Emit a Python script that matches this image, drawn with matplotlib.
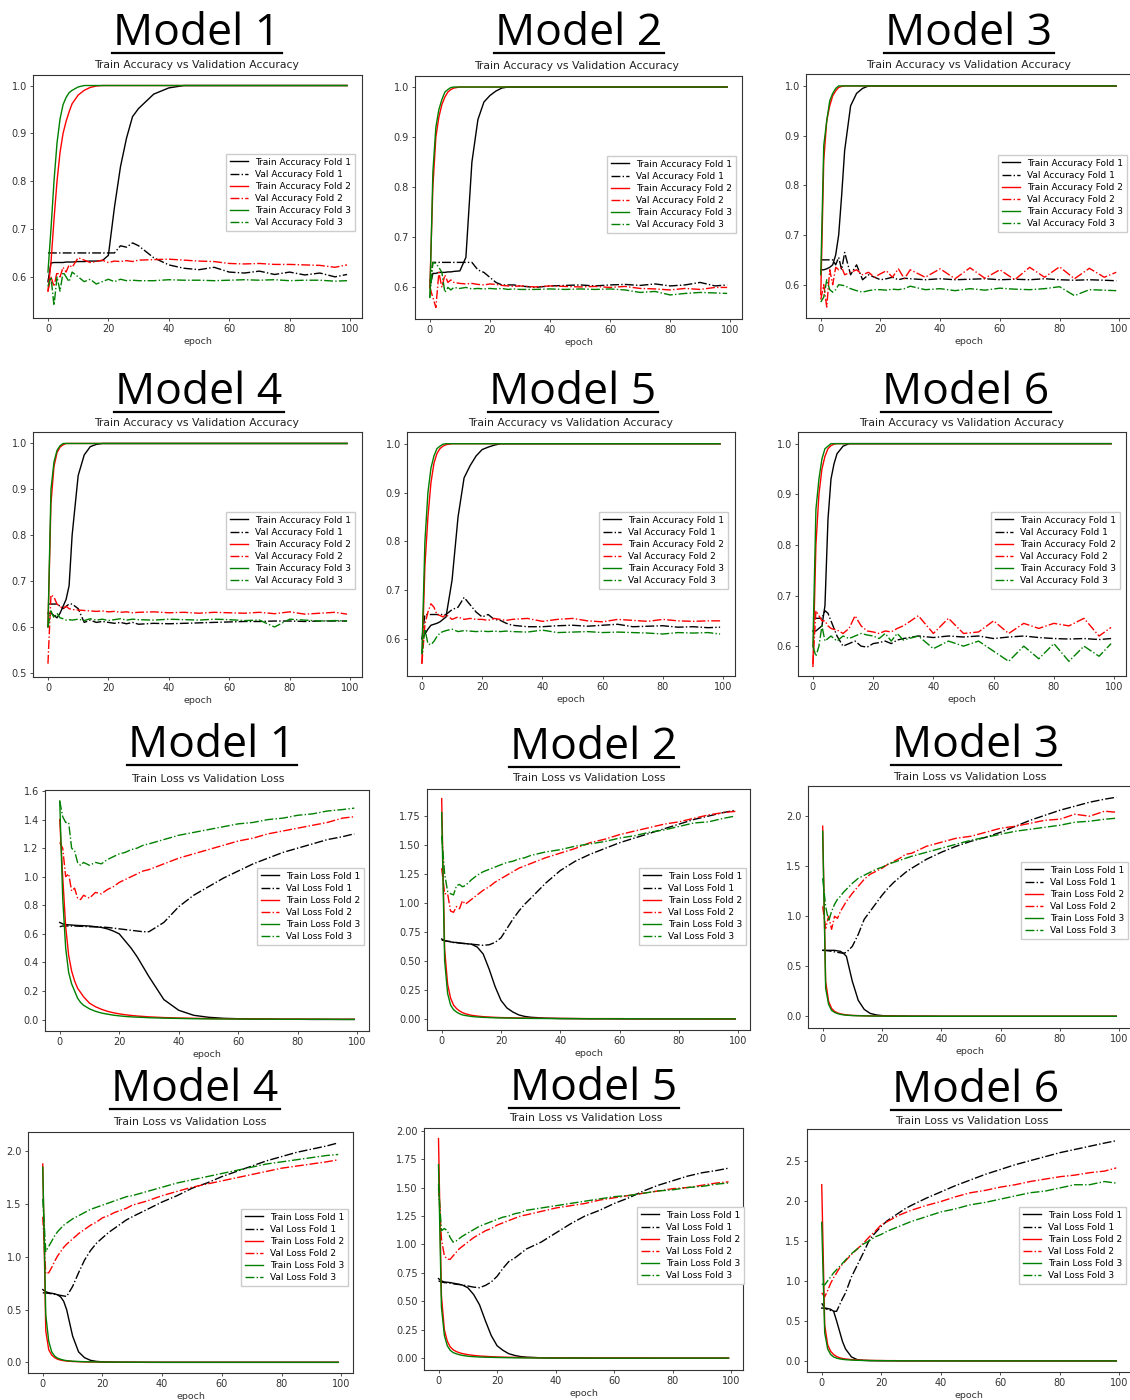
import matplotlib.pyplot as plt
from matplotlib.lines import Line2D
from matplotlib.ticker import MultipleLocator

W, H = 1130, 1400

epochs = [0, 1, 2, 3, 4, 5, 6, 7, 8,
          10, 12, 14, 16, 18, 20, 22, 24, 26, 28, 30,
          35, 40, 45, 50, 55, 60, 65, 70, 75, 80, 85, 90, 95, 99]

# ---------------- accuracy, Model 1 ----------------
m1_acc_tr1 = [0.59, 0.629, 0.63, 0.63, 0.63, 0.63, 0.631, 0.631, 0.631,
              0.632, 0.632, 0.633, 0.633, 0.634, 0.645, 0.745, 0.83, 0.89, 0.935, 0.952,
              0.982, 0.995, 1.0, 1.0, 1.0, 1.0, 1.0, 1.0, 1.0, 1.0, 1.0, 1.0, 1.0, 1.0]
m1_acc_va1 = [0.65, 0.65, 0.65, 0.65, 0.65, 0.65, 0.65, 0.65, 0.65,
              0.65, 0.65, 0.65, 0.65, 0.65, 0.65, 0.65, 0.665, 0.662, 0.671, 0.665,
              0.64, 0.625, 0.618, 0.615, 0.62, 0.61, 0.608, 0.612, 0.605, 0.61, 0.604, 0.608, 0.6, 0.605]
m1_acc_tr2 = [0.57, 0.63, 0.72, 0.8, 0.86, 0.9, 0.925, 0.945, 0.962,
              0.98, 0.99, 0.996, 0.999, 1.0, 1.0, 1.0, 1.0, 1.0, 1.0, 1.0,
              1.0, 1.0, 1.0, 1.0, 1.0, 1.0, 1.0, 1.0, 1.0, 1.0, 1.0, 1.0, 1.0, 1.0]
m1_acc_va2 = [0.57, 0.6, 0.58, 0.61, 0.6, 0.62, 0.61, 0.625, 0.62,
              0.64, 0.635, 0.63, 0.632, 0.635, 0.63, 0.633, 0.632, 0.634, 0.632, 0.635,
              0.636, 0.637, 0.635, 0.633, 0.632, 0.628, 0.627, 0.628, 0.626, 0.626, 0.625, 0.624, 0.62, 0.625]
m1_acc_tr3 = [0.61, 0.7, 0.8, 0.88, 0.93, 0.96, 0.975, 0.985, 0.99,
              0.997, 1.0, 1.0, 1.0, 1.0, 1.0, 1.0, 1.0, 1.0, 1.0, 1.0,
              1.0, 1.0, 1.0, 1.0, 1.0, 1.0, 1.0, 1.0, 1.0, 1.0, 1.0, 1.0, 1.0, 1.0]
m1_acc_va3 = [0.58, 0.6, 0.54, 0.6, 0.57, 0.61, 0.6, 0.59, 0.61,
              0.6, 0.59, 0.595, 0.585, 0.59, 0.595, 0.59, 0.595, 0.592, 0.593, 0.592,
              0.592, 0.594, 0.593, 0.593, 0.592, 0.593, 0.594, 0.593, 0.594, 0.592, 0.593, 0.593, 0.591, 0.592]

# ---------------- accuracy, Model 2 ----------------
m2_acc_tr1 = [0.6, 0.628, 0.628, 0.63, 0.63, 0.63, 0.631, 0.631, 0.632,
              0.633, 0.66, 0.85, 0.935, 0.97, 0.983, 0.992, 0.998, 1.0, 1.0, 1.0,
              1.0, 1.0, 1.0, 1.0, 1.0, 1.0, 1.0, 1.0, 1.0, 1.0, 1.0, 1.0, 1.0, 1.0]
m2_acc_va1 = [0.61, 0.65, 0.65, 0.65, 0.65, 0.65, 0.65, 0.65, 0.65,
              0.65, 0.65, 0.65, 0.635, 0.63, 0.62, 0.61, 0.605, 0.605, 0.605, 0.603,
              0.6, 0.603, 0.604, 0.605, 0.603, 0.605, 0.606, 0.604, 0.607, 0.603, 0.605, 0.61, 0.603, 0.605]
m2_acc_tr2 = [0.6, 0.8, 0.9, 0.94, 0.965, 0.98, 0.99, 0.995, 0.998,
              1.0, 1.0, 1.0, 1.0, 1.0, 1.0, 1.0, 1.0, 1.0, 1.0, 1.0,
              1.0, 1.0, 1.0, 1.0, 1.0, 1.0, 1.0, 1.0, 1.0, 1.0, 1.0, 1.0, 1.0, 1.0]
m2_acc_va2 = [0.6, 0.58, 0.56, 0.63, 0.6, 0.625, 0.61, 0.615, 0.61,
              0.608, 0.607, 0.608, 0.606, 0.605, 0.607, 0.606, 0.604, 0.603, 0.602, 0.603,
              0.601, 0.603, 0.602, 0.601, 0.602, 0.6, 0.602, 0.598, 0.597, 0.595, 0.598, 0.596, 0.6, 0.6]
m2_acc_tr3 = [0.58, 0.83, 0.92, 0.955, 0.975, 0.99, 0.995, 0.999, 1.0,
              1.0, 1.0, 1.0, 1.0, 1.0, 1.0, 1.0, 1.0, 1.0, 1.0, 1.0,
              1.0, 1.0, 1.0, 1.0, 1.0, 1.0, 1.0, 1.0, 1.0, 1.0, 1.0, 1.0, 1.0, 1.0]
m2_acc_va3 = [0.58, 0.65, 0.648, 0.64, 0.63, 0.59, 0.6, 0.595, 0.6,
              0.598, 0.6, 0.597, 0.598, 0.597, 0.598, 0.597, 0.598, 0.596, 0.597, 0.596,
              0.596, 0.597, 0.596, 0.597, 0.596, 0.597, 0.595, 0.59, 0.592, 0.585, 0.588, 0.59, 0.589, 0.588]

# ---------------- accuracy, Model 3 ----------------
m3_acc_tr1 = [0.63, 0.63, 0.632, 0.635, 0.64, 0.66, 0.7, 0.78, 0.87,
              0.96, 0.985, 0.995, 1.0, 1.0, 1.0, 1.0, 1.0, 1.0, 1.0, 1.0,
              1.0, 1.0, 1.0, 1.0, 1.0, 1.0, 1.0, 1.0, 1.0, 1.0, 1.0, 1.0, 1.0, 1.0]
m3_acc_va1 = [0.65, 0.65, 0.65, 0.65, 0.65, 0.64, 0.655, 0.63, 0.665,
              0.62, 0.64, 0.61, 0.62, 0.615, 0.61, 0.612, 0.615, 0.61, 0.613, 0.612,
              0.61, 0.612, 0.61, 0.611, 0.612, 0.61, 0.611, 0.61, 0.612, 0.61, 0.609, 0.61, 0.609, 0.608]
m3_acc_tr2 = [0.58, 0.85, 0.93, 0.96, 0.98, 0.99, 0.997, 0.999, 1.0,
              1.0, 1.0, 1.0, 1.0, 1.0, 1.0, 1.0, 1.0, 1.0, 1.0, 1.0,
              1.0, 1.0, 1.0, 1.0, 1.0, 1.0, 1.0, 1.0, 1.0, 1.0, 1.0, 1.0, 1.0, 1.0]
m3_acc_va2 = [0.57, 0.6, 0.555, 0.63, 0.6, 0.635, 0.63, 0.635, 0.62,
              0.625, 0.63, 0.62, 0.625, 0.615, 0.622, 0.628, 0.615, 0.632, 0.612, 0.63,
              0.615, 0.632, 0.612, 0.634, 0.613, 0.63, 0.61, 0.635, 0.615, 0.636, 0.612, 0.633, 0.615, 0.625]
m3_acc_tr3 = [0.62, 0.88, 0.93, 0.97, 0.985, 0.995, 1.0, 1.0, 1.0,
              1.0, 1.0, 1.0, 1.0, 1.0, 1.0, 1.0, 1.0, 1.0, 1.0, 1.0,
              1.0, 1.0, 1.0, 1.0, 1.0, 1.0, 1.0, 1.0, 1.0, 1.0, 1.0, 1.0, 1.0, 1.0]
m3_acc_va3 = [0.565, 0.575, 0.61, 0.59, 0.585, 0.59, 0.6, 0.599, 0.598,
              0.592, 0.588, 0.585, 0.588, 0.59, 0.59, 0.589, 0.591, 0.59, 0.592, 0.597,
              0.59, 0.592, 0.588, 0.592, 0.589, 0.593, 0.591, 0.59, 0.592, 0.596, 0.578, 0.59, 0.589, 0.588]

# ---------------- accuracy, Model 4 ----------------
m4_acc_tr1 = [0.63, 0.63, 0.625, 0.62, 0.63, 0.645, 0.66, 0.69, 0.8,
              0.93, 0.975, 0.993, 0.998, 1.0, 1.0, 1.0, 1.0, 1.0, 1.0, 1.0,
              1.0, 1.0, 1.0, 1.0, 1.0, 1.0, 1.0, 1.0, 1.0, 1.0, 1.0, 1.0, 1.0, 1.0]
m4_acc_va1 = [0.65, 0.65, 0.65, 0.65, 0.645, 0.64, 0.645, 0.65, 0.65,
              0.64, 0.61, 0.615, 0.61, 0.612, 0.61, 0.608, 0.61, 0.607, 0.61, 0.606,
              0.608, 0.607, 0.608, 0.609, 0.61, 0.611, 0.612, 0.612, 0.613, 0.613, 0.612, 0.613, 0.613, 0.613]
m4_acc_tr2 = [0.6, 0.87, 0.95, 0.98, 0.992, 0.997, 1.0, 1.0, 1.0,
              1.0, 1.0, 1.0, 1.0, 1.0, 1.0, 1.0, 1.0, 1.0, 1.0, 1.0,
              1.0, 1.0, 1.0, 1.0, 1.0, 1.0, 1.0, 1.0, 1.0, 1.0, 1.0, 1.0, 1.0, 1.0]
m4_acc_va2 = [0.52, 0.67, 0.665, 0.65, 0.645, 0.64, 0.645, 0.64, 0.638,
              0.637, 0.636, 0.635, 0.634, 0.635, 0.633, 0.634, 0.632, 0.633, 0.631, 0.632,
              0.633, 0.631, 0.632, 0.63, 0.632, 0.631, 0.63, 0.632, 0.629, 0.633, 0.628, 0.63, 0.632, 0.628]
m4_acc_tr3 = [0.6, 0.9, 0.96, 0.985, 0.995, 1.0, 1.0, 1.0, 1.0,
              1.0, 1.0, 1.0, 1.0, 1.0, 1.0, 1.0, 1.0, 1.0, 1.0, 1.0,
              1.0, 1.0, 1.0, 1.0, 1.0, 1.0, 1.0, 1.0, 1.0, 1.0, 1.0, 1.0, 1.0, 1.0]
m4_acc_va3 = [0.6, 0.635, 0.62, 0.63, 0.62, 0.618, 0.615, 0.616, 0.615,
              0.617, 0.614, 0.618, 0.615, 0.617, 0.614, 0.616, 0.618, 0.615, 0.617, 0.616,
              0.615, 0.617, 0.616, 0.615, 0.617, 0.616, 0.614, 0.615, 0.6, 0.617, 0.615, 0.613, 0.614, 0.613]

# ---------------- accuracy, Model 5 ----------------
m5_acc_tr1 = [0.6, 0.61, 0.62, 0.628, 0.63, 0.632, 0.635, 0.64, 0.645,
              0.72, 0.85, 0.93, 0.955, 0.975, 0.988, 0.993, 0.997, 1.0, 1.0, 1.0,
              1.0, 1.0, 1.0, 1.0, 1.0, 1.0, 1.0, 1.0, 1.0, 1.0, 1.0, 1.0, 1.0, 1.0]
m5_acc_va1 = [0.6, 0.65, 0.65, 0.65, 0.65, 0.65, 0.65, 0.65, 0.65,
              0.66, 0.665, 0.685, 0.67, 0.655, 0.645, 0.65, 0.64, 0.638, 0.632, 0.628,
              0.625, 0.625, 0.627, 0.628, 0.626, 0.628, 0.63, 0.625, 0.626, 0.627, 0.624, 0.625, 0.623, 0.624]
m5_acc_tr2 = [0.55, 0.75, 0.85, 0.92, 0.96, 0.98, 0.99, 0.995, 0.998,
              1.0, 1.0, 1.0, 1.0, 1.0, 1.0, 1.0, 1.0, 1.0, 1.0, 1.0,
              1.0, 1.0, 1.0, 1.0, 1.0, 1.0, 1.0, 1.0, 1.0, 1.0, 1.0, 1.0, 1.0, 1.0]
m5_acc_va2 = [0.55, 0.63, 0.655, 0.672, 0.665, 0.65, 0.648, 0.645, 0.65,
              0.64, 0.645, 0.64, 0.642, 0.64, 0.64, 0.638, 0.642, 0.64, 0.638, 0.64,
              0.642, 0.636, 0.64, 0.642, 0.637, 0.635, 0.64, 0.638, 0.636, 0.64, 0.637, 0.636, 0.637, 0.637]
m5_acc_tr3 = [0.57, 0.8, 0.9, 0.95, 0.975, 0.99, 0.995, 0.999, 1.0,
              1.0, 1.0, 1.0, 1.0, 1.0, 1.0, 1.0, 1.0, 1.0, 1.0, 1.0,
              1.0, 1.0, 1.0, 1.0, 1.0, 1.0, 1.0, 1.0, 1.0, 1.0, 1.0, 1.0, 1.0, 1.0]
m5_acc_va3 = [0.57, 0.62, 0.59, 0.588, 0.595, 0.605, 0.612, 0.615, 0.617,
              0.62, 0.615, 0.617, 0.616, 0.615, 0.616, 0.615, 0.616, 0.615, 0.616, 0.615,
              0.614, 0.618, 0.613, 0.614, 0.615, 0.613, 0.614, 0.613, 0.612, 0.61, 0.613, 0.612, 0.613, 0.61]

# ---------------- accuracy, Model 6 ----------------
m6_acc_tr1 = [0.63, 0.63, 0.635, 0.64, 0.68, 0.85, 0.93, 0.96, 0.98,
              0.995, 1.0, 1.0, 1.0, 1.0, 1.0, 1.0, 1.0, 1.0, 1.0, 1.0,
              1.0, 1.0, 1.0, 1.0, 1.0, 1.0, 1.0, 1.0, 1.0, 1.0, 1.0, 1.0, 1.0, 1.0]
m6_acc_va1 = [0.655, 0.655, 0.655, 0.655, 0.67, 0.665, 0.65, 0.635, 0.62,
              0.6, 0.605, 0.61, 0.6, 0.598, 0.605, 0.607, 0.61, 0.605, 0.612, 0.615,
              0.62, 0.617, 0.62, 0.618, 0.62, 0.615, 0.618, 0.62, 0.617, 0.615, 0.614, 0.615, 0.613, 0.615]
m6_acc_tr2 = [0.56, 0.8, 0.9, 0.95, 0.975, 0.99, 0.996, 0.999, 1.0,
              1.0, 1.0, 1.0, 1.0, 1.0, 1.0, 1.0, 1.0, 1.0, 1.0, 1.0,
              1.0, 1.0, 1.0, 1.0, 1.0, 1.0, 1.0, 1.0, 1.0, 1.0, 1.0, 1.0, 1.0, 1.0]
m6_acc_va2 = [0.565, 0.67, 0.66, 0.65, 0.65, 0.64, 0.635, 0.633, 0.632,
              0.625, 0.635, 0.66, 0.64, 0.63, 0.628, 0.625, 0.63, 0.628, 0.635, 0.64,
              0.66, 0.625, 0.655, 0.625, 0.628, 0.65, 0.625, 0.645, 0.635, 0.645, 0.64, 0.655, 0.62, 0.637]
m6_acc_tr3 = [0.6, 0.87, 0.93, 0.97, 0.99, 0.995, 1.0, 1.0, 1.0,
              1.0, 1.0, 1.0, 1.0, 1.0, 1.0, 1.0, 1.0, 1.0, 1.0, 1.0,
              1.0, 1.0, 1.0, 1.0, 1.0, 1.0, 1.0, 1.0, 1.0, 1.0, 1.0, 1.0, 1.0, 1.0]
m6_acc_va3 = [0.6, 0.58, 0.6, 0.64, 0.61, 0.615, 0.62, 0.615, 0.61,
              0.62, 0.615, 0.62, 0.625, 0.622, 0.62, 0.615, 0.625, 0.61, 0.625, 0.612,
              0.62, 0.595, 0.61, 0.6, 0.61, 0.59, 0.57, 0.6, 0.575, 0.605, 0.57, 0.6, 0.58, 0.605]

# ---------------- loss, Model 1 ----------------
m1_loss_tr1 = [0.68, 0.67, 0.665, 0.663, 0.662, 0.66, 0.659, 0.658, 0.657,
               0.655, 0.65, 0.645, 0.635, 0.62, 0.6, 0.55, 0.5, 0.44, 0.37, 0.3,
               0.14, 0.065, 0.03, 0.016, 0.009, 0.006, 0.004, 0.003, 0.002, 0.002, 0.001, 0.001, 0.001, 0.001]
m1_loss_va1 = [0.65, 0.655, 0.655, 0.655, 0.655, 0.655, 0.654, 0.653, 0.652,
               0.65, 0.649, 0.648, 0.645, 0.64, 0.635, 0.63, 0.625, 0.62, 0.615, 0.615,
               0.68, 0.79, 0.87, 0.93, 0.99, 1.04, 1.09, 1.13, 1.17, 1.2, 1.23, 1.26, 1.28, 1.3]
m1_loss_tr2 = [1.4, 1.0, 0.65, 0.45, 0.34, 0.27, 0.22, 0.19, 0.16,
               0.115, 0.09, 0.072, 0.058, 0.048, 0.04, 0.034, 0.029, 0.025, 0.022, 0.019,
               0.014, 0.011, 0.009, 0.007, 0.006, 0.005, 0.004, 0.004, 0.003, 0.003, 0.003, 0.002, 0.002, 0.002]
m1_loss_va2 = [1.24, 1.2, 1.0, 1.02, 0.9, 0.92, 0.85, 0.84, 0.87,
               0.85, 0.89, 0.88, 0.91, 0.93, 0.96, 0.98, 1.0, 1.02, 1.04, 1.05,
               1.09, 1.13, 1.16, 1.19, 1.22, 1.25, 1.27, 1.3, 1.32, 1.34, 1.36, 1.38, 1.41, 1.42]
m1_loss_tr3 = [1.53, 0.85, 0.5, 0.33, 0.25, 0.2, 0.15, 0.12, 0.1,
               0.075, 0.058, 0.046, 0.038, 0.031, 0.026, 0.022, 0.019, 0.017, 0.015, 0.013,
               0.01, 0.008, 0.006, 0.005, 0.004, 0.004, 0.003, 0.003, 0.002, 0.002, 0.002, 0.002, 0.001, 0.001]
m1_loss_va3 = [1.53, 1.42, 1.38, 1.38, 1.2, 1.18, 1.1, 1.08, 1.1,
               1.08, 1.1, 1.09, 1.12, 1.14, 1.16, 1.17, 1.19, 1.2, 1.22, 1.23,
               1.26, 1.29, 1.31, 1.33, 1.35, 1.37, 1.38, 1.4, 1.41, 1.43, 1.44, 1.46, 1.47, 1.48]

# ---------------- loss, Model 2 ----------------
m2_loss_tr1 = [0.69, 0.675, 0.67, 0.665, 0.66, 0.66, 0.655, 0.652, 0.65,
               0.645, 0.62, 0.56, 0.43, 0.28, 0.16, 0.095, 0.06, 0.035, 0.022, 0.015,
               0.007, 0.004, 0.003, 0.002, 0.002, 0.001, 0.001, 0.001, 0.001, 0.001, 0.001, 0.001, 0.001, 0.001]
m2_loss_va1 = [0.68, 0.675, 0.67, 0.668, 0.66, 0.658, 0.655, 0.652, 0.65,
               0.645, 0.64, 0.635, 0.64, 0.66, 0.7, 0.78, 0.86, 0.93, 0.99, 1.04,
               1.17, 1.28, 1.36, 1.42, 1.47, 1.52, 1.56, 1.6, 1.64, 1.68, 1.72, 1.75, 1.78, 1.8]
m2_loss_tr2 = [1.9, 0.6, 0.3, 0.18, 0.12, 0.09, 0.07, 0.055, 0.045,
               0.032, 0.025, 0.02, 0.017, 0.014, 0.012, 0.011, 0.01, 0.009, 0.008, 0.007,
               0.006, 0.005, 0.004, 0.003, 0.003, 0.003, 0.002, 0.002, 0.002, 0.002, 0.002, 0.001, 0.001, 0.001]
m2_loss_va2 = [1.3, 1.08, 1.08, 0.93, 0.92, 0.97, 0.95, 1.02, 0.99,
               1.03, 1.07, 1.11, 1.14, 1.18, 1.21, 1.24, 1.27, 1.3, 1.32, 1.34,
               1.39, 1.43, 1.47, 1.52, 1.55, 1.59, 1.62, 1.65, 1.68, 1.7, 1.73, 1.76, 1.78, 1.79]
m2_loss_tr3 = [1.78, 0.5, 0.22, 0.12, 0.08, 0.06, 0.045, 0.035, 0.03,
               0.022, 0.017, 0.014, 0.012, 0.01, 0.009, 0.008, 0.007, 0.006, 0.006, 0.005,
               0.004, 0.003, 0.003, 0.002, 0.002, 0.002, 0.002, 0.001, 0.001, 0.001, 0.001, 0.001, 0.001, 0.001]
m2_loss_va3 = [1.58, 1.25, 1.1, 1.08, 1.07, 1.15, 1.16, 1.14, 1.15,
               1.2, 1.24, 1.27, 1.29, 1.31, 1.33, 1.35, 1.36, 1.38, 1.39, 1.41,
               1.44, 1.46, 1.49, 1.51, 1.53, 1.56, 1.58, 1.61, 1.63, 1.66, 1.69, 1.7, 1.73, 1.75]

# ---------------- loss, Model 3 ----------------
m3_loss_tr1 = [0.66, 0.66, 0.66, 0.66, 0.66, 0.655, 0.65, 0.63, 0.6,
               0.35, 0.16, 0.07, 0.03, 0.015, 0.008, 0.005, 0.004, 0.003, 0.003, 0.002,
               0.002, 0.001, 0.001, 0.001, 0.001, 0.001, 0.001, 0.001, 0.001, 0.001, 0.001, 0.001, 0.001, 0.001]
m3_loss_va1 = [0.66, 0.658, 0.655, 0.65, 0.645, 0.64, 0.635, 0.63, 0.64,
               0.7, 0.82, 0.97, 1.05, 1.13, 1.21, 1.28, 1.34, 1.39, 1.44, 1.48,
               1.57, 1.64, 1.7, 1.75, 1.79, 1.84, 1.9, 1.96, 2.01, 2.06, 2.1, 2.14, 2.17, 2.19]
m3_loss_tr2 = [1.9, 0.35, 0.15, 0.08, 0.05, 0.035, 0.025, 0.02, 0.015,
               0.01, 0.008, 0.006, 0.005, 0.004, 0.004, 0.003, 0.003, 0.002, 0.002, 0.002,
               0.002, 0.001, 0.001, 0.001, 0.001, 0.001, 0.001, 0.001, 0.001, 0.001, 0.001, 0.001, 0.001, 0.001]
m3_loss_va2 = [1.1, 0.88, 1.0, 0.87, 1.0, 0.98, 1.05, 1.1, 1.15,
               1.23, 1.3, 1.37, 1.42, 1.45, 1.48, 1.52, 1.55, 1.58, 1.62, 1.63,
               1.7, 1.74, 1.78, 1.8, 1.84, 1.88, 1.9, 1.93, 1.96, 1.97, 2.02, 2.0, 2.05, 2.04]
m3_loss_tr3 = [1.85, 0.28, 0.12, 0.06, 0.04, 0.028, 0.02, 0.015, 0.012,
               0.008, 0.006, 0.005, 0.004, 0.003, 0.003, 0.002, 0.002, 0.002, 0.002, 0.001,
               0.001, 0.001, 0.001, 0.001, 0.001, 0.001, 0.001, 0.001, 0.001, 0.001, 0.001, 0.001, 0.001, 0.001]
m3_loss_va3 = [1.38, 1.1, 0.95, 1.05, 1.12, 1.17, 1.2, 1.24, 1.27,
               1.33, 1.38, 1.41, 1.44, 1.47, 1.49, 1.52, 1.54, 1.56, 1.58, 1.6,
               1.64, 1.68, 1.72, 1.76, 1.79, 1.82, 1.85, 1.87, 1.89, 1.91, 1.94, 1.95, 1.97, 1.98]

# ---------------- loss, Model 4 ----------------
m4_loss_tr1 = [0.69, 0.67, 0.66, 0.655, 0.65, 0.64, 0.62, 0.58, 0.5,
               0.25, 0.1, 0.045, 0.02, 0.01, 0.006, 0.004, 0.003, 0.002, 0.002, 0.002,
               0.001, 0.001, 0.001, 0.001, 0.001, 0.001, 0.001, 0.001, 0.001, 0.001, 0.001, 0.001, 0.001, 0.001]
m4_loss_va1 = [0.66, 0.658, 0.655, 0.65, 0.645, 0.64, 0.635, 0.63, 0.625,
               0.72, 0.85, 0.97, 1.06, 1.13, 1.18, 1.23, 1.27, 1.31, 1.35, 1.38,
               1.45, 1.52, 1.58, 1.65, 1.7, 1.76, 1.81, 1.86, 1.91, 1.95, 1.99, 2.02, 2.05, 2.08]
m4_loss_tr2 = [1.88, 0.3, 0.12, 0.07, 0.045, 0.03, 0.022, 0.017, 0.013,
               0.009, 0.007, 0.005, 0.004, 0.004, 0.003, 0.003, 0.002, 0.002, 0.002, 0.002,
               0.001, 0.001, 0.001, 0.001, 0.001, 0.001, 0.001, 0.001, 0.001, 0.001, 0.001, 0.001, 0.001, 0.001]
m4_loss_va2 = [1.38, 0.84, 0.85, 0.9, 0.96, 1.01, 1.05, 1.09, 1.12,
               1.17, 1.22, 1.26, 1.3, 1.33, 1.37, 1.39, 1.42, 1.44, 1.46, 1.49,
               1.53, 1.58, 1.62, 1.66, 1.69, 1.72, 1.75, 1.78, 1.81, 1.84, 1.86, 1.88, 1.9, 1.92]
m4_loss_tr3 = [1.85, 0.45, 0.2, 0.1, 0.06, 0.04, 0.03, 0.022, 0.017,
               0.012, 0.009, 0.007, 0.006, 0.005, 0.004, 0.003, 0.003, 0.003, 0.002, 0.002,
               0.002, 0.001, 0.001, 0.001, 0.001, 0.001, 0.001, 0.001, 0.001, 0.001, 0.001, 0.001, 0.001, 0.001]
m4_loss_va3 = [1.55, 1.05, 1.1, 1.15, 1.2, 1.24, 1.27, 1.3, 1.32,
               1.36, 1.39, 1.42, 1.45, 1.47, 1.49, 1.51, 1.53, 1.55, 1.57, 1.58,
               1.62, 1.66, 1.7, 1.73, 1.76, 1.79, 1.82, 1.85, 1.88, 1.9, 1.92, 1.94, 1.96, 1.97]

# ---------------- loss, Model 5 ----------------
m5_loss_tr1 = [0.7, 0.68, 0.67, 0.668, 0.665, 0.66, 0.655, 0.65, 0.645,
               0.62, 0.56, 0.47, 0.33, 0.2, 0.11, 0.07, 0.04, 0.025, 0.015, 0.01,
               0.004, 0.002, 0.002, 0.001, 0.001, 0.001, 0.001, 0.001, 0.001, 0.001, 0.001, 0.001, 0.001, 0.001]
m5_loss_va1 = [0.68, 0.67, 0.665, 0.662, 0.66, 0.655, 0.65, 0.648, 0.645,
               0.635, 0.625, 0.62, 0.64, 0.67, 0.72, 0.79, 0.85, 0.88, 0.92, 0.96,
               1.02, 1.1, 1.18, 1.25, 1.3, 1.36, 1.41, 1.47, 1.52, 1.56, 1.6, 1.63, 1.65, 1.67]
m5_loss_tr2 = [1.93, 0.55, 0.25, 0.15, 0.1, 0.075, 0.06, 0.05, 0.042,
               0.032, 0.025, 0.02, 0.017, 0.014, 0.012, 0.01, 0.009, 0.008, 0.007, 0.006,
               0.005, 0.004, 0.003, 0.003, 0.002, 0.002, 0.002, 0.002, 0.001, 0.001, 0.001, 0.001, 0.001, 0.001]
m5_loss_va2 = [1.5, 1.05, 0.9, 0.87, 0.87, 0.9, 0.93, 0.96, 0.98,
               1.02, 1.06, 1.09, 1.12, 1.14, 1.17, 1.19, 1.21, 1.23, 1.25, 1.26,
               1.29, 1.32, 1.34, 1.36, 1.39, 1.41, 1.43, 1.45, 1.47, 1.49, 1.5, 1.52, 1.54, 1.55]
m5_loss_tr3 = [1.7, 0.45, 0.2, 0.11, 0.07, 0.05, 0.04, 0.032, 0.026,
               0.018, 0.014, 0.011, 0.009, 0.008, 0.007, 0.006, 0.005, 0.004, 0.004, 0.003,
               0.003, 0.002, 0.002, 0.002, 0.001, 0.001, 0.001, 0.001, 0.001, 0.001, 0.001, 0.001, 0.001, 0.001]
m5_loss_va3 = [1.53, 1.12, 1.14, 1.12, 1.06, 1.02, 1.03, 1.05, 1.07,
               1.1, 1.13, 1.16, 1.18, 1.2, 1.22, 1.24, 1.25, 1.27, 1.28, 1.3,
               1.32, 1.34, 1.36, 1.38, 1.4, 1.42, 1.43, 1.45, 1.47, 1.48, 1.5, 1.51, 1.53, 1.54]

# ---------------- loss, Model 6 ----------------
m6_loss_tr1 = [0.66, 0.66, 0.655, 0.645, 0.62, 0.5, 0.37, 0.24, 0.15,
               0.05, 0.015, 0.007, 0.004, 0.003, 0.002, 0.002, 0.002, 0.001, 0.001, 0.001,
               0.001, 0.001, 0.001, 0.001, 0.001, 0.001, 0.001, 0.001, 0.001, 0.001, 0.001, 0.001, 0.001, 0.001]
m6_loss_va1 = [0.72, 0.66, 0.64, 0.63, 0.62, 0.62, 0.7, 0.78, 0.85,
               1.05, 1.2, 1.35, 1.51, 1.6, 1.68, 1.75, 1.8, 1.85, 1.9, 1.94,
               2.03, 2.11, 2.19, 2.26, 2.33, 2.39, 2.45, 2.5, 2.55, 2.6, 2.64, 2.68, 2.72, 2.75]
m6_loss_tr2 = [2.2, 0.45, 0.2, 0.12, 0.08, 0.055, 0.04, 0.03, 0.025,
               0.017, 0.012, 0.009, 0.007, 0.006, 0.005, 0.004, 0.004, 0.003, 0.003, 0.003,
               0.002, 0.002, 0.002, 0.001, 0.001, 0.001, 0.001, 0.001, 0.001, 0.001, 0.001, 0.001, 0.001, 0.001]
m6_loss_va2 = [0.85, 0.8, 0.88, 0.97, 1.04, 1.1, 1.16, 1.21, 1.25,
               1.33, 1.4, 1.47, 1.55, 1.62, 1.7, 1.74, 1.78, 1.82, 1.85, 1.88,
               1.94, 1.99, 2.05, 2.1, 2.13, 2.17, 2.2, 2.24, 2.27, 2.3, 2.32, 2.35, 2.37, 2.41]
m6_loss_tr3 = [1.73, 0.35, 0.15, 0.08, 0.05, 0.035, 0.026, 0.02, 0.016,
               0.011, 0.008, 0.006, 0.005, 0.004, 0.004, 0.003, 0.003, 0.002, 0.002, 0.002,
               0.002, 0.001, 0.001, 0.001, 0.001, 0.001, 0.001, 0.001, 0.001, 0.001, 0.001, 0.001, 0.001, 0.001]
m6_loss_va3 = [0.96, 0.95, 1.0, 1.05, 1.1, 1.14, 1.18, 1.22, 1.26,
               1.34, 1.4, 1.46, 1.5, 1.55, 1.58, 1.62, 1.65, 1.68, 1.71, 1.74,
               1.8, 1.86, 1.9, 1.95, 1.98, 2.02, 2.06, 2.1, 2.12, 2.16, 2.2, 2.2, 2.24, 2.22]

acc_series = [
    [m1_acc_tr1, m1_acc_va1, m1_acc_tr2, m1_acc_va2, m1_acc_tr3, m1_acc_va3],
    [m2_acc_tr1, m2_acc_va1, m2_acc_tr2, m2_acc_va2, m2_acc_tr3, m2_acc_va3],
    [m3_acc_tr1, m3_acc_va1, m3_acc_tr2, m3_acc_va2, m3_acc_tr3, m3_acc_va3],
    [m4_acc_tr1, m4_acc_va1, m4_acc_tr2, m4_acc_va2, m4_acc_tr3, m4_acc_va3],
    [m5_acc_tr1, m5_acc_va1, m5_acc_tr2, m5_acc_va2, m5_acc_tr3, m5_acc_va3],
    [m6_acc_tr1, m6_acc_va1, m6_acc_tr2, m6_acc_va2, m6_acc_tr3, m6_acc_va3],
]
loss_series = [
    [m1_loss_tr1, m1_loss_va1, m1_loss_tr2, m1_loss_va2, m1_loss_tr3, m1_loss_va3],
    [m2_loss_tr1, m2_loss_va1, m2_loss_tr2, m2_loss_va2, m2_loss_tr3, m2_loss_va3],
    [m3_loss_tr1, m3_loss_va1, m3_loss_tr2, m3_loss_va2, m3_loss_tr3, m3_loss_va3],
    [m4_loss_tr1, m4_loss_va1, m4_loss_tr2, m4_loss_va2, m4_loss_tr3, m4_loss_va3],
    [m5_loss_tr1, m5_loss_va1, m5_loss_tr2, m5_loss_va2, m5_loss_tr3, m5_loss_va3],
    [m6_loss_tr1, m6_loss_va1, m6_loss_tr2, m6_loss_va2, m6_loss_tr3, m6_loss_va3],
]

acc_labels = ['Train Accuracy Fold 1', 'Val Accuracy Fold 1', 'Train Accuracy Fold 2',
              'Val Accuracy Fold 2', 'Train Accuracy Fold 3', 'Val Accuracy Fold 3']
loss_labels = ['Train Loss Fold 1', 'Val Loss Fold 1', 'Train Loss Fold 2',
               'Val Loss Fold 2', 'Train Loss Fold 3', 'Val Loss Fold 3']
model_names = ['Model 1', 'Model 2', 'Model 3', 'Model 4', 'Model 5', 'Model 6']

colors = ['black', 'black', 'red', 'red', 'green', 'green']
styles = ['-', '-.', '-', '-.', '-', '-.']

# panel layout in pixels (left, top, right, bottom) of each axes
axes_px = [(33, 75, 362, 318), (415, 76, 742, 319), (806, 74, 1131, 318),
           (33, 432, 362, 677), (407, 432, 735, 676), (798, 432, 1126, 676),
           (45, 790, 369, 1031), (427, 789, 750, 1030), (808, 786, 1131, 1028),
           (28, 1132, 353, 1373), (424, 1128, 743, 1370), (807, 1129, 1131, 1372)]
ylims = [(0.514, 1.022), (0.537, 1.022), (0.533, 1.024),
         (0.491, 1.025), (0.524, 1.024), (0.541, 1.023),
         (-0.08, 1.607), (-0.095, 1.983), (-0.116, 2.302),
         (-0.10, 2.183), (-0.103, 2.023), (-0.138, 2.896)]
ysteps = [0.1, 0.1, 0.1, 0.1, 0.1, 0.1, 0.2, 0.25, 0.5, 0.5, 0.25, 0.5]
# big title centre x and underline y; subtitle centre
title_px = [(197, 53), (579, 53), (969, 53), (199, 412), (573, 412), (966, 412),
            (212, 765), (594, 767), (976, 765), (195, 1109), (594, 1108), (976, 1110)]
sub_px = [(196, 65), (577, 66), (969, 65), (197, 423), (570, 423), (962, 423),
          (208, 779), (589, 778), (970, 777), (190, 1122), (586, 1118), (972, 1121)]
legend_px = [(226, 154), (607, 156), (998, 155), (226, 512), (599, 512), (991, 512),
             (257, 868), (639, 868), (1021, 862), (241, 1209), (637, 1207), (1019, 1207)]

fig = plt.figure(figsize=(W / 100, H / 100), dpi=100)

for i in range(12):
    if i < 6:
        series, labels, sub = acc_series[i], acc_labels, 'Train Accuracy vs Validation Accuracy'
    else:
        series, labels, sub = loss_series[i - 6], loss_labels, 'Train Loss vs Validation Loss'
    name = model_names[i % 6]

    l, t, r, b = axes_px[i]
    ax = fig.add_axes([l / W, 1 - b / H, (r - l) / W, (b - t) / H])
    for vals, c, ls, lab in zip(series, colors, styles, labels):
        ax.plot(epochs, vals, color=c, linestyle=ls, linewidth=1.0, label=lab)

    ax.set_xlim(-4.95, 103.95)
    ax.set_ylim(*ylims[i])
    ax.set_xticks([0, 20, 40, 60, 80, 100])
    ax.yaxis.set_major_locator(MultipleLocator(ysteps[i]))
    ax.tick_params(labelsize=7, length=2.5, width=0.6, pad=2, colors='#333333')
    ax.set_xlabel('epoch', fontsize=6.8, labelpad=2, color='#333333')
    for sp in ax.spines.values():
        sp.set_linewidth(0.8)
        sp.set_color('#333333')

    lx, ly = legend_px[i]
    ax.legend(loc='upper left', bbox_to_anchor=(lx / W, 1 - ly / H),
              bbox_transform=fig.transFigure, borderaxespad=0, fontsize=6.5,
              labelspacing=0.35, handlelength=2.0, handletextpad=0.8, borderpad=0.4,
              framealpha=1.0, edgecolor='#cccccc', fancybox=False)

    cx, uy = title_px[i]
    fig.text(cx / W, 1 - (uy - 8) / H, name, fontsize=32, family='Open Sans',
             ha='center', va='baseline', color='black')
    fig.add_artist(Line2D([(cx - 85) / W, (cx + 85) / W], [1 - uy / H, 1 - uy / H],
                          transform=fig.transFigure, color='black', linewidth=1.6))
    sx, sy = sub_px[i]
    fig.text(sx / W, 1 - sy / H, sub, fontsize=7.8, ha='center', va='center',
             color='#222222')

fig.savefig('out.png', dpi=100)
